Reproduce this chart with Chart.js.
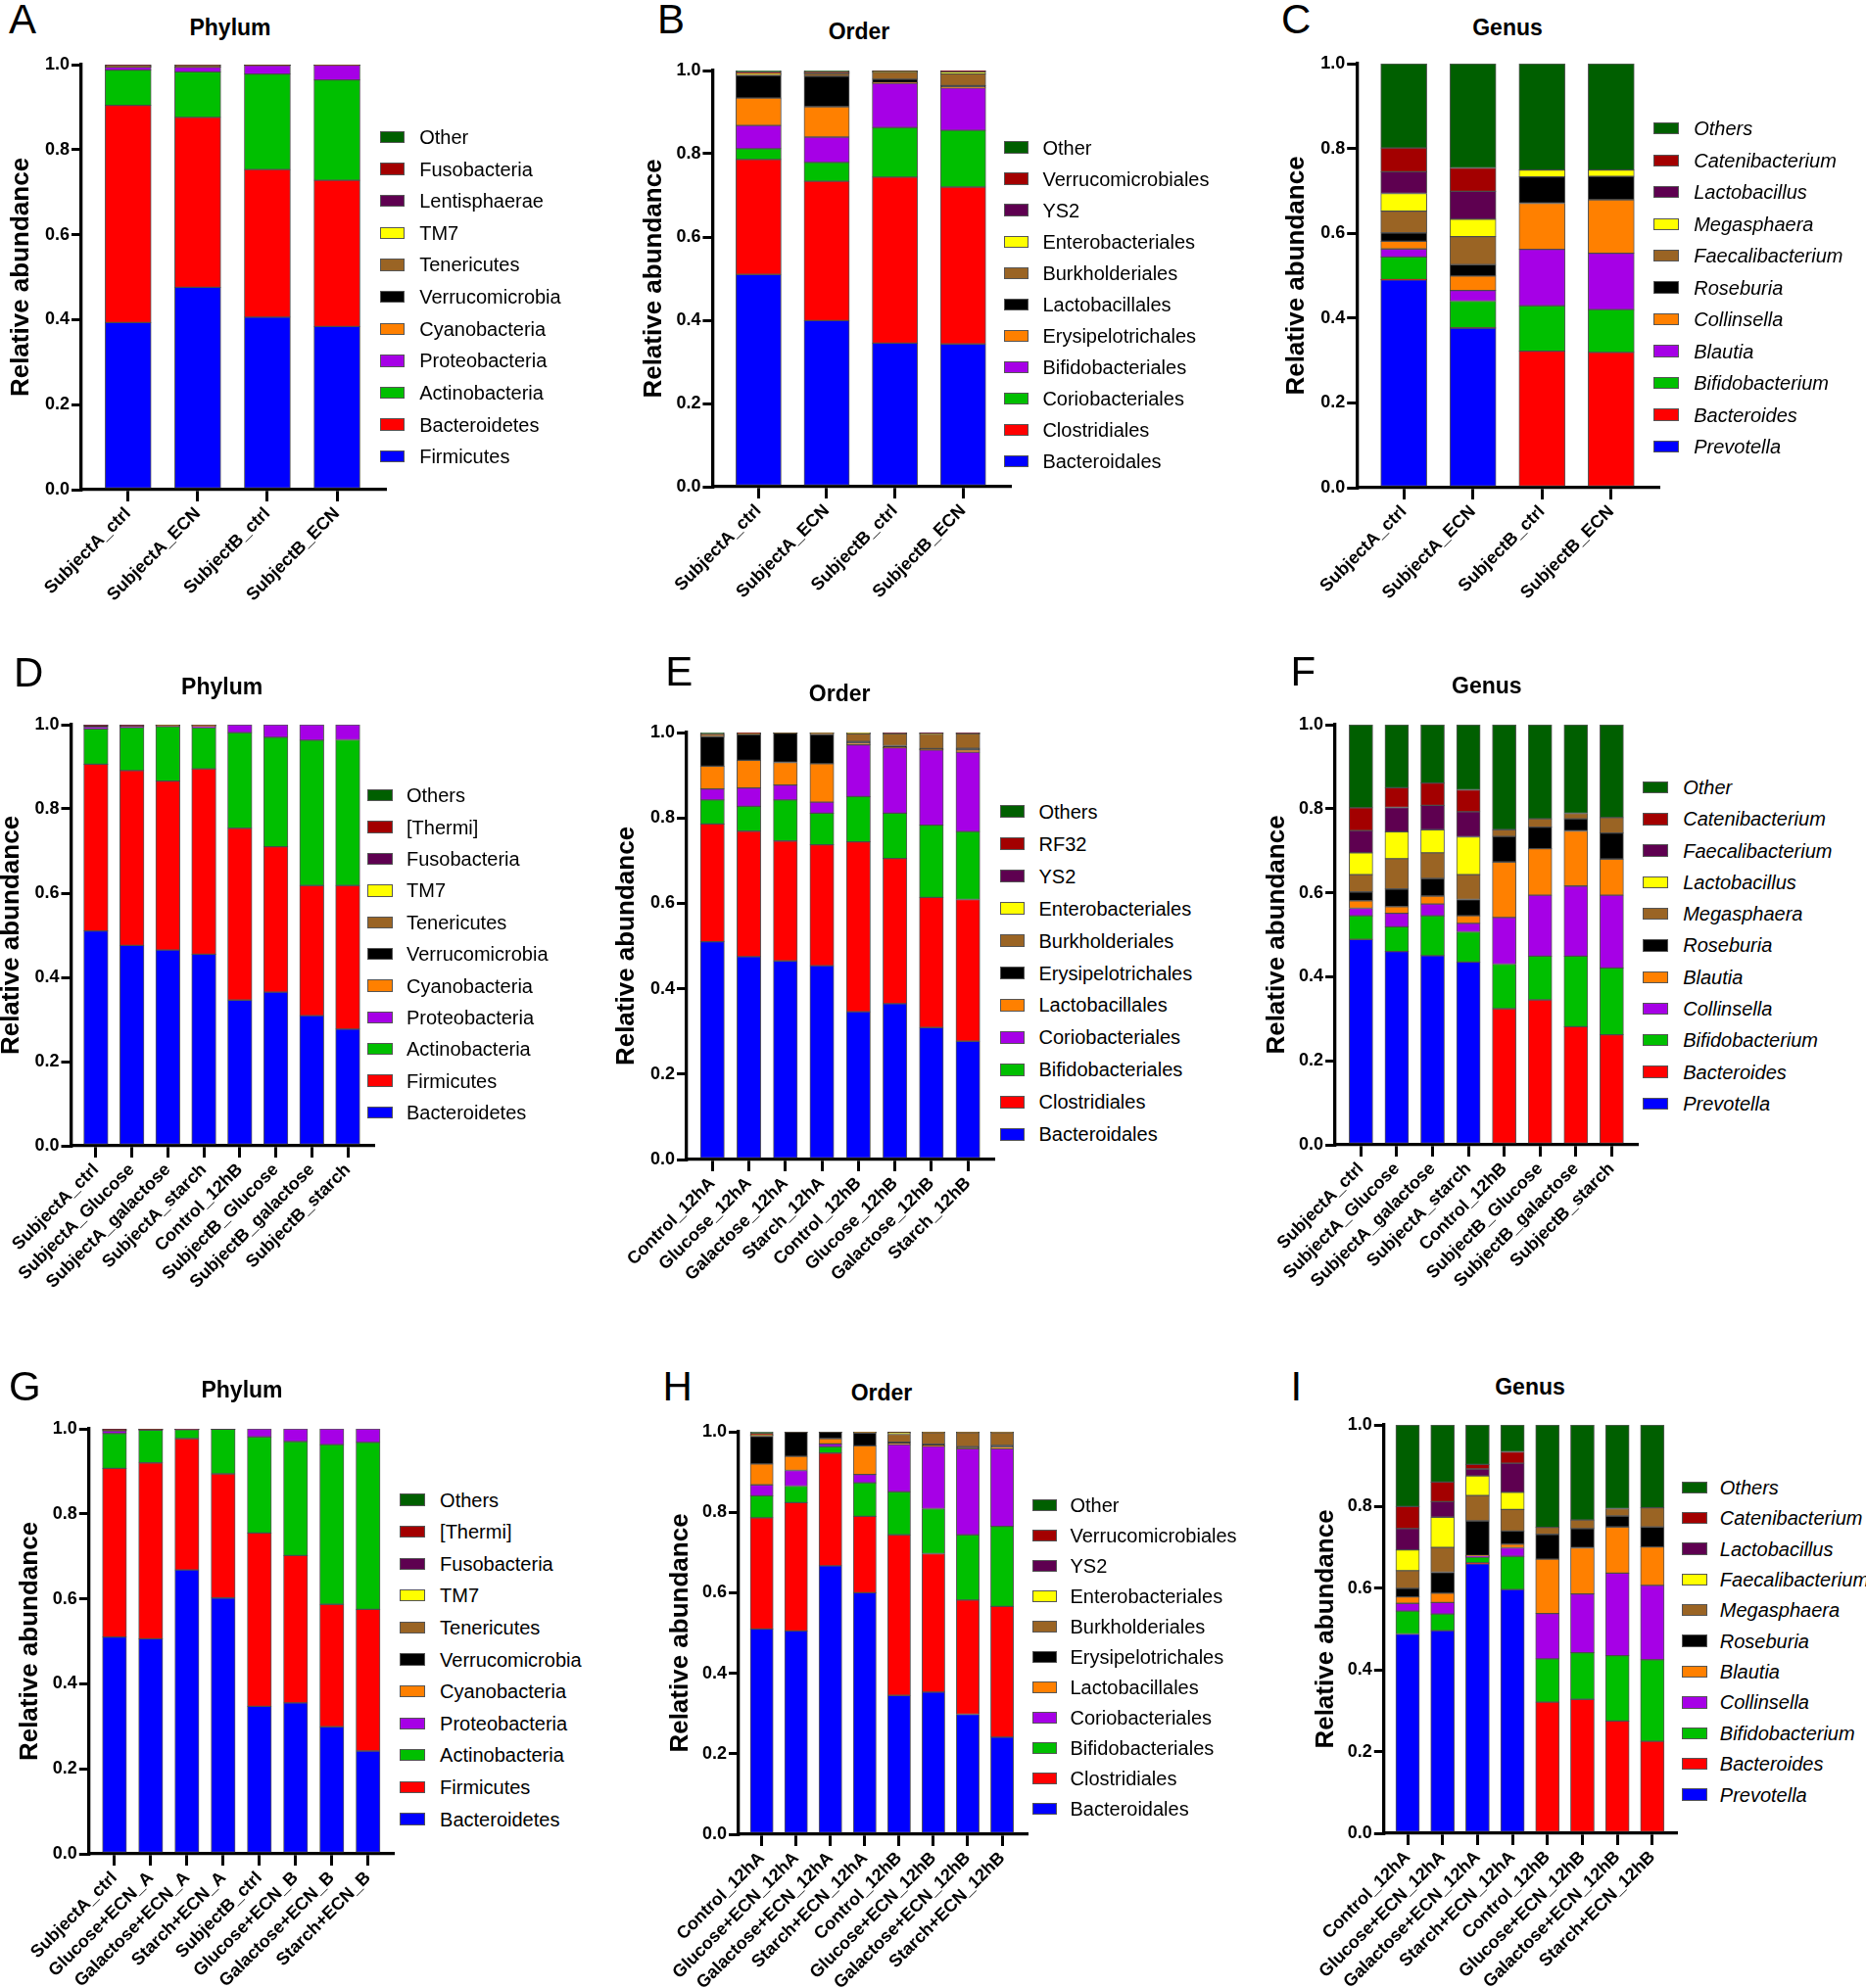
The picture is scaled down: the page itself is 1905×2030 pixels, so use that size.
<!DOCTYPE html>
<html><head><meta charset="utf-8">
<script src="https://cdn.jsdelivr.net/npm/chart.js@4.4.1/dist/chart.umd.min.js"></script>
<style>
html,body{margin:0;padding:0;background:#fff;}
body{width:1905px;height:2030px;position:relative;overflow:hidden;font-family:"Liberation Sans",Arial,Helvetica,sans-serif;color:#000;}
.a{position:absolute;white-space:nowrap;line-height:1;}
canvas{position:absolute;}
.sw{position:absolute;box-sizing:border-box;border:1px solid #555;}
</style></head><body>
<script>
const FONT = '"Liberation Sans", Arial, sans-serif';
const palette = ['#0000ff','#ff0000','#00bf00','#a600e6','#ff8000','#000000','#9a6424','#ffff00','#5e0050','#a30000','#005f00'];
const yTickValues = [0, 0.2, 0.4, 0.6, 0.8, 1.0];
const yTickLabels = ['0.0','0.2','0.4','0.6','0.8','1.0'];
const yAxisTitle = 'Relative abundance';

// ---- Panel A (Phylum) ----
const catsA = ['SubjectA_ctrl','SubjectA_ECN','SubjectB_ctrl','SubjectB_ECN'];
const taxaA = ['Firmicutes','Bacteroidetes','Actinobacteria','Proteobacteria','Cyanobacteria','Verrucomicrobia','Tenericutes','TM7','Lentisphaerae','Fusobacteria','Other'];
const valsA = [
  [0.393,0.476,0.406,0.384],
  [0.511,0.400,0.347,0.344],
  [0.083,0.107,0.225,0.236],
  [0.007,0.011,0.020,0.0345],
  [0.0005,0.0005,0.0003,0.0003],
  [0.0015,0.002,0.0003,0.0003],
  [0.001,0.001,0.0003,0.0003],
  [0.0003,0.0003,0.0002,0.0002],
  [0.0015,0.001,0.0001,0.0001],
  [0.0005,0.0005,0.0001,0.0001],
  [0.0007,0.0007,0.0002,0.0002]
];

// ---- Panel B (Order) ----
const catsB = ['SubjectA_ctrl','SubjectA_ECN','SubjectB_ctrl','SubjectB_ECN'];
const taxaB = ['Bacteroidales','Clostridiales','Coriobacteriales','Bifidobacteriales','Erysipelotrichales','Lactobacillales','Burkholderiales','Enterobacteriales','YS2','Verrucomicrobiales','Other'];
const valsB = [
  [0.510,0.399,0.345,0.343],
  [0.276,0.335,0.399,0.377],
  [0.026,0.045,0.119,0.136],
  [0.056,0.061,0.106,0.102],
  [0.066,0.073,0.002,0.002],
  [0.054,0.073,0.008,0.004],
  [0.003,0.006,0.017,0.028],
  [0.001,0.002,0.001,0.005],
  [0.001,0.001,0.001,0.001],
  [0.003,0.001,0.0005,0.001],
  [0.004,0.004,0.0015,0.001]
];

// ---- Panel C (Genus) ----
const catsC = ['SubjectA_ctrl','SubjectA_ECN','SubjectB_ctrl','SubjectB_ECN'];
const taxaC = ['Prevotella','Bacteroides','Bifidobacterium','Blautia','Collinsella','Roseburia','Faecalibacterium','Megasphaera','Lactobacillus','Catenibacterium','Others'];
const valsC = [
  [0.490,0.376,0,0],
  [0.001,0.001,0.322,0.319],
  [0.053,0.063,0.107,0.101],
  [0.019,0.025,0.133,0.133],
  [0.018,0.034,0.109,0.126],
  [0.020,0.027,0.062,0.055],
  [0.051,0.066,0,0],
  [0.042,0.041,0.016,0.015],
  [0.051,0.066,0,0],
  [0.056,0.055,0,0],
  [0.199,0.246,0.251,0.251]
];

// ---- Panel D (Phylum) ----
const catsD = ['SubjectA_ctrl','SubjectA_Glucose','SubjectA_galactose','SubjectA_starch','Control_12hB','SubjectB_Glucose','SubjectB_galactose','SubjectB_starch'];
const taxaD = ['Bacteroidetes','Firmicutes','Actinobacteria','Proteobacteria','Cyanobacteria','Verrucomicrobia','Tenericutes','TM7','Fusobacteria','[Thermi]','Others'];
const valsD = [
  [0.510,0.476,0.465,0.455,0.346,0.365,0.309,0.277],
  [0.396,0.415,0.401,0.440,0.408,0.345,0.309,0.341],
  [0.084,0.1025,0.1295,0.098,0.227,0.260,0.345,0.346],
  [0.005,0.002,0.001,0.003,0.019,0.030,0.037,0.036],
  [0.0005,0.0005,0.0005,0.0005,0,0,0,0],
  [0.0015,0.001,0.001,0.001,0,0,0,0],
  [0.0005,0.0005,0.0005,0.0005,0,0,0,0],
  [0.0002,0.0002,0.0002,0.0002,0,0,0,0],
  [0.0015,0.0015,0.0005,0.001,0,0,0,0],
  [0.0003,0.0003,0.0003,0.0003,0,0,0,0],
  [0.0005,0.0005,0.0005,0.0005,0,0,0,0]
];

// ---- Panel E (Order) ----
const catsE = ['Control_12hA','Glucose_12hA','Galactose_12hA','Starch_12hA','Control_12hB','Glucose_12hB','Galactose_12hB','Starch_12hB'];
const taxaE = ['Bacteroidales','Clostridiales','Bifidobacteriales','Coriobacteriales','Lactobacillales','Erysipelotrichales','Burkholderiales','Enterobacteriales','YS2','RF32','Others'];
const valsE = [
  [0.510,0.475,0.465,0.454,0.346,0.365,0.309,0.277],
  [0.276,0.294,0.281,0.283,0.398,0.340,0.305,0.332],
  [0.056,0.058,0.096,0.074,0.106,0.106,0.169,0.159],
  [0.026,0.043,0.035,0.026,0.121,0.153,0.176,0.186],
  [0.053,0.065,0.053,0.090,0.004,0.001,0.0005,0.005],
  [0.069,0.060,0.0685,0.068,0.004,0.004,0.003,0.004],
  [0.003,0.002,0.0005,0.003,0.018,0.028,0.034,0.034],
  [0.0005,0.0005,0.0003,0.0005,0.002,0.001,0.0005,0.001],
  [0.0005,0.0005,0.0002,0.0003,0.0005,0.001,0.002,0.001],
  [0.002,0.001,0.0002,0.0005,0.0003,0.0005,0.0003,0.0005],
  [0.004,0.001,0.0003,0.0007,0.0002,0.0005,0.0002,0.0005]
];

// ---- Panel F (Genus) ----
const catsF = ['SubjectA_ctrl','SubjectA_Glucose','SubjectA_galactose','SubjectA_starch','Control_12hB','SubjectB_Glucose','SubjectB_galactose','SubjectB_starch'];
const taxaF = ['Prevotella','Bacteroides','Bifidobacterium','Collinsella','Blautia','Roseburia','Megasphaera','Lactobacillus','Faecalibacterium','Catenibacterium','Other'];
const valsF = [
  [0.489,0.460,0.450,0.435,0,0,0,0],
  [0,0,0,0,0.324,0.345,0.281,0.262],
  [0.056,0.059,0.095,0.072,0.106,0.104,0.168,0.159],
  [0.018,0.032,0.028,0.020,0.111,0.145,0.167,0.173],
  [0.018,0.016,0.019,0.018,0.132,0.111,0.131,0.086],
  [0.021,0.042,0.042,0.039,0.061,0.051,0.029,0.062],
  [0.041,0.072,0.061,0.059,0.016,0.020,0.013,0.037],
  [0.052,0.064,0.055,0.090,0,0,0,0],
  [0.053,0.058,0.058,0.060,0,0,0,0],
  [0.054,0.047,0.053,0.052,0,0,0,0],
  [0.198,0.150,0.139,0.155,0.250,0.224,0.211,0.221]
];

// ---- Panel G (Phylum) ----
const catsG = ['SubjectA_ctrl','Glucose+ECN_A','Galactose+ECN_A','Starch+ECN_A','SubjectB_ctrl','Glucose+ECN_B','Galactose+ECN_B','Starch+ECN_B'];
const taxaG = ['Bacteroidetes','Firmicutes','Actinobacteria','Proteobacteria','Cyanobacteria','Verrucomicrobia','Tenericutes','TM7','Fusobacteria','[Thermi]','Others'];
const valsG = [
  [0.510,0.506,0.668,0.602,0.347,0.355,0.299,0.242],
  [0.397,0.414,0.309,0.292,0.408,0.347,0.288,0.333],
  [0.082,0.077,0.021,0.105,0.226,0.268,0.376,0.393],
  [0.006,0.001,0.0005,0.0005,0.019,0.030,0.037,0.032],
  [0.0005,0.0002,0.0002,0.0002,0,0,0,0],
  [0.001,0.0005,0.0003,0.0001,0,0,0,0],
  [0.0005,0.0003,0.0002,0.0001,0,0,0,0],
  [0.0002,0.0001,0.0001,0.0001,0,0,0,0],
  [0.0015,0.0005,0.0003,0.0002,0,0,0,0],
  [0.0003,0.0002,0.0002,0.0001,0,0,0,0],
  [0.0005,0.0005,0.0002,0.0002,0,0,0,0]
];

// ---- Panel H (Order) ----
const catsH = ['Control_12hA','Glucose+ECN_12hA','Galactose+ECN_12hA','Starch+ECN_12hA','Control_12hB','Glucose+ECN_12hB','Galactose+ECN_12hB','Starch+ECN_12hB'];
const taxaH = ['Bacteroidales','Clostridiales','Bifidobacteriales','Coriobacteriales','Lactobacillales','Erysipelotrichales','Burkholderiales','Enterobacteriales','YS2','Verrucomicrobiales','Other'];
const valsH = [
  [0.510,0.505,0.667,0.600,0.345,0.353,0.298,0.241],
  [0.276,0.319,0.280,0.190,0.399,0.344,0.284,0.325],
  [0.055,0.041,0.016,0.083,0.107,0.112,0.162,0.199],
  [0.027,0.039,0.007,0.021,0.117,0.155,0.214,0.193],
  [0.052,0.035,0.013,0.071,0.003,0.001,0.001,0.003],
  [0.069,0.060,0.016,0.032,0.003,0.004,0.004,0.005],
  [0.002,0.0005,0.0003,0.001,0.020,0.029,0.035,0.032],
  [0.0005,0.0002,0.0002,0.0003,0.003,0.0005,0.0005,0.0005],
  [0.0005,0.0001,0.0001,0.0002,0.001,0.0003,0.0005,0.001],
  [0.003,0.0001,0.0001,0.0003,0.0005,0.0002,0.0005,0.0005],
  [0.005,0.0001,0.0003,0.0012,0.0015,0.001,0.0005,0.0003]
];

// ---- Panel I (Genus) ----
const catsI = ['Control_12hA','Glucose+ECN_12hA','Galactose+ECN_12hA','Starch+ECN_12hA','Control_12hB','Glucose+ECN_12hB','Galactose+ECN_12hB','Starch+ECN_12hB'];
const taxaI = ['Prevotella','Bacteroides','Bifidobacterium','Collinsella','Blautia','Roseburia','Megasphaera','Faecalibacterium','Lactobacillus','Catenibacterium','Others'];
const valsI = [
  [0.488,0.496,0.660,0.597,0,0,0,0],
  [0,0,0.002,0,0.321,0.328,0.275,0.225],
  [0.056,0.041,0.014,0.081,0.106,0.114,0.160,0.200],
  [0.019,0.028,0.002,0.021,0.111,0.144,0.202,0.182],
  [0.016,0.023,0.002,0.009,0.133,0.113,0.113,0.094],
  [0.021,0.051,0.085,0.032,0.061,0.047,0.027,0.049],
  [0.043,0.061,0.062,0.053,0.017,0.021,0.018,0.047],
  [0.051,0.074,0.048,0.042,0,0,0,0],
  [0.052,0.038,0.017,0.071,0,0,0,0],
  [0.054,0.048,0.011,0.028,0,0,0,0],
  [0.200,0.140,0.097,0.066,0.251,0.233,0.205,0.203]
];

// ---- layout (pixel geometry only) ----
const panels = [
  {letter:'A',title:'Phylum',cats:catsA,taxa:taxaA,vals:valsA,italic:false,
   g:{lx:9,lb:34.8,tx:235,tb:36,axisX:83,yTop:66,yBot:500,xRight:392.6,c0:130.7,step:71,barW:47,legBox:387.7,legText:428.2,leg0:139.9,legStep:32.64,ytc:22}},
  {letter:'B',title:'Order',cats:catsB,taxa:taxaB,vals:valsB,italic:false,
   g:{lx:670.9,lb:34.8,tx:877,tb:40.9,axisX:727,yTop:71.6,yBot:496.9,xRight:1030.8,c0:774,step:69.67,barW:46.2,legBox:1024.7,legText:1064.4,leg0:150.5,legStep:32.07,ytc:667.6}},
  {letter:'C',title:'Genus',cats:catsC,taxa:taxaC,vals:valsC,italic:true,
   g:{lx:1308,lb:34.8,tx:1539,tb:36,axisX:1385.5,yTop:65.4,yBot:498.2,xRight:1693.6,c0:1433.5,step:70.63,barW:47,legBox:1688.3,legText:1729.2,leg0:131.3,legStep:32.47,ytc:1324.3}},
  {letter:'D',title:'Phylum',cats:catsD,taxa:taxaD,vals:valsD,italic:false,
   g:{lx:13.9,lb:701.6,tx:226.6,tb:709.2,axisX:72.5,yTop:740.4,yBot:1170.7,xRight:381,c0:97.9,step:36.73,barW:24.7,legBox:375.3,legText:415,leg0:812.3,legStep:32.37,ytc:12}},
  {letter:'E',title:'Order',cats:catsE,taxa:taxaE,vals:valsE,italic:false,
   g:{lx:679.3,lb:700.4,tx:857.2,tb:716.4,axisX:701,yTop:748,yBot:1184,xRight:1013.5,c0:727.2,step:37.21,barW:24.4,legBox:1020.8,legText:1060.5,leg0:828.6,legStep:32.98,ytc:640}},
  {letter:'F',title:'Genus',cats:catsF,taxa:taxaF,vals:valsF,italic:true,
   g:{lx:1317.4,lb:700.4,tx:1517.8,tb:708,axisX:1363,yTop:739.6,yBot:1168.9,xRight:1671.1,c0:1389.3,step:36.59,barW:24.1,legBox:1677.3,legText:1718.2,leg0:804.1,legStep:32.27,ytc:1303.9}},
  {letter:'G',title:'Phylum',cats:catsG,taxa:taxaG,vals:valsG,italic:false,
   g:{lx:9,lb:1430.9,tx:247,tb:1427.6,axisX:90.5,yTop:1458.7,yBot:1892.3,xRight:400.8,c0:116.6,step:36.99,barW:24.5,legBox:408.2,legText:449.1,leg0:1531.5,legStep:32.6,ytc:30.7}},
  {letter:'H',title:'Order',cats:catsH,taxa:taxaH,vals:valsH,italic:false,
   g:{lx:676.6,lb:1430.9,tx:900,tb:1430.9,axisX:754,yTop:1461.6,yBot:1872.6,xRight:1047.5,c0:777.6,step:35,barW:23.3,legBox:1053.7,legText:1092.5,leg0:1537.2,legStep:30.96,ytc:695}},
  {letter:'I',title:'Genus',cats:catsI,taxa:taxaI,vals:valsI,italic:true,
   g:{lx:1317.4,lb:1430.9,tx:1562,tb:1424.8,axisX:1413,yTop:1455.4,yBot:1872.6,xRight:1710.8,c0:1437.2,step:35.64,barW:24.1,legBox:1717,legText:1755.8,leg0:1518.8,legStep:31.37,ytc:1354.2}}
];

function addText(txt, x, baseline, size, weight, center, italic){
  const d = document.createElement('div');
  d.className = 'a';
  d.textContent = txt;
  d.style.fontSize = size + 'px';
  d.style.fontWeight = weight;
  if (italic) d.style.fontStyle = 'italic';
  d.style.left = x + 'px';
  d.style.top = (baseline - 0.8465 * size) + 'px';
  if (center) d.style.transform = 'translateX(-50%)';
  document.body.appendChild(d);
  return d;
}

function build(p){
  const g = p.g;
  const padTop = 22, padRight = 6, xH = 175;
  const cLeft = g.ytc - 16;
  const cTop = g.yTop - padTop;
  const W = Math.round(g.xRight + padRight - cLeft);
  const H = Math.round(g.yBot - cTop + xH);
  const cv = document.createElement('canvas');
  cv.width = W; cv.height = H;
  cv.style.left = cLeft + 'px'; cv.style.top = cTop + 'px';
  cv.style.width = W + 'px'; cv.style.height = H + 'px';
  document.body.appendChild(cv);
  const datasets = p.taxa.map((name, k) => ({
    label: name,
    data: p.vals[k].map((v, i) => ({x: i, y: v})),
    backgroundColor: palette[k],
    borderColor: 'rgba(60,60,60,0.85)',
    borderWidth: 1,
    borderSkipped: false,
    barThickness: g.barW
  }));
  new Chart(cv, {
    type: 'bar',
    data: {datasets},
    options: {
      responsive: false, animation: false, devicePixelRatio: 1,
      layout: {padding: {left: 0, right: padRight, top: padTop, bottom: 0}},
      plugins: {legend: {display: false}, tooltip: {enabled: false}, title: {display: false}},
      scales: {
        x: {
          type: 'linear', stacked: true, offset: false,
          min: (g.axisX - g.c0) / g.step, max: (g.xRight - g.c0) / g.step,
          afterBuildTicks: s => { s.ticks = p.cats.map((c, i) => ({value: i})); },
          afterFit: s => { s.height = xH; s.paddingLeft = 0; s.paddingRight = 0; },
          ticks: {autoSkip: false, minRotation: 45, maxRotation: 45, padding: 2, color: '#000',
                  font: {family: FONT, size: 18, weight: 'bold'}, callback: (v, i) => p.cats[i]},
          grid: {offset: false, drawOnChartArea: false, drawTicks: true, tickLength: 12, tickWidth: 3, color: '#000', lineWidth: 3},
          border: {display: true, color: '#000', width: 3.3}
        },
        y: {
          type: 'linear', stacked: true, min: 0, max: 1,
          afterBuildTicks: s => { s.ticks = yTickValues.map(v => ({value: v})); },
          afterFit: s => { s.width = g.axisX - cLeft; s.paddingTop = 0; s.paddingBottom = 0; },
          ticks: {padding: 2, color: '#000', font: {family: FONT, size: 18, weight: 'bold'},
                  callback: (v, i) => yTickLabels[i]},
          title: {display: true, text: yAxisTitle, color: '#000',
                  font: {family: FONT, size: 26, weight: 'bold', lineHeight: 1}, padding: {top: 3, bottom: 0}},
          grid: {drawOnChartArea: false, drawTicks: true, tickLength: 10, tickWidth: 3, color: '#000', lineWidth: 3},
          border: {display: true, color: '#000', width: 3.3}
        }
      }
    }
  });

  addText(p.letter, g.lx, g.lb, 42, 'normal', false, false);
  addText(p.title, g.tx, g.tb, 23, 'bold', true, false);

  const n = p.taxa.length;
  for (let r = 0; r < n; r++) {
    const k = n - 1 - r;
    const cy = g.leg0 + r * g.legStep;
    const sw = document.createElement('div');
    sw.className = 'sw';
    sw.style.left = g.legBox + 'px';
    sw.style.top = (cy - 6.2) + 'px';
    sw.style.width = '25.6px';
    sw.style.height = '12.4px';
    sw.style.background = palette[k];
    document.body.appendChild(sw);
    const t = document.createElement('div');
    t.className = 'a';
    t.textContent = p.taxa[k];
    t.style.left = g.legText + 'px';
    t.style.top = (cy - 12) + 'px';
    t.style.fontSize = '20px';
    t.style.lineHeight = '24px';
    if (p.italic) t.style.fontStyle = 'italic';
    document.body.appendChild(t);
  }
}

panels.forEach(build);
</script>
</body></html>
